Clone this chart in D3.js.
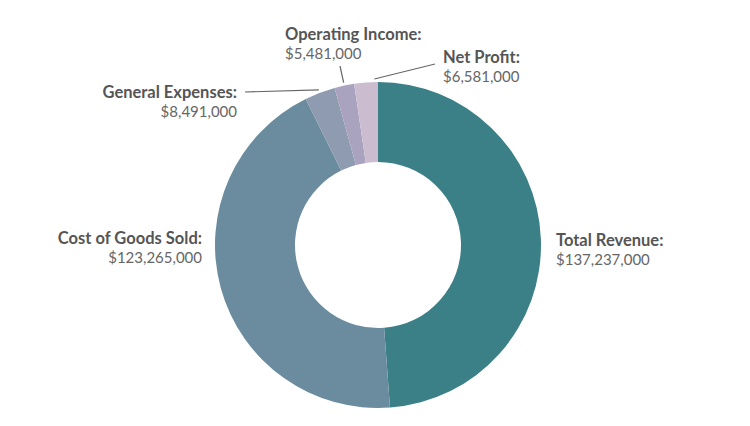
<!DOCTYPE html>
<html><head><meta charset="utf-8">
<script src="https://cdn.jsdelivr.net/npm/d3@7"></script>
<style>body{margin:0;background:#fff}svg{display:block}</style>
</head><body>
<svg id="c" width="750" height="426"></svg>
<script>
const categories = ["Total Revenue", "Cost of Goods Sold", "General Expenses", "Operating Income", "Net Profit"];
const values = [137237000, 123265000, 8491000, 5481000, 6581000];
const colors = ["#3b8087", "#6a8c9e", "#8e9bb0", "#a9a3bf", "#cbbdcf"];

// label layout (not data)
const labelLayout = [
  {x: 556, y: 246, anchor: "start", leader: null},
  {x: 202, y: 244, anchor: "end", leader: null},
  {x: 237, y: 98, anchor: "end", leader: [245, 92]},
  {x: 285, y: 40, anchor: "start", leader: [340, 66]},
  {x: 443, y: 63, anchor: "start", leader: [435, 64]}
];

const svg = d3.select("#c");
const cx = 378, cy = 245, R = 163, r = 83;
const g = svg.append("g").attr("transform", `translate(${cx},${cy})`);
const pie = d3.pie().sort(null).value(d => d)(values);
const arc = d3.arc().innerRadius(r).outerRadius(R);
g.selectAll("path").data(pie).join("path")
  .attr("d", arc).attr("fill", (d, i) => colors[i]);

const fmt = d3.format("$,");
labelLayout.forEach((L, i) => {
  const t = svg.append("text").attr("x", L.x).attr("y", L.y)
    .attr("text-anchor", L.anchor).style("font-family", "Lato, sans-serif");
  t.append("tspan").attr("x", L.x).style("font-weight", "bold").style("font-size", "16.5px")
    .attr("fill", "#555").text(categories[i] + ":");
  t.append("tspan").attr("x", L.x).attr("dy", 18.5).style("font-size", "15px")
    .attr("fill", "#666").text(fmt(values[i]));
  if (L.leader) {
    const d = pie[i];
    let a = (d.startAngle + d.endAngle) / 2;
    if (i === 4) a = d.startAngle + (d.endAngle - d.startAngle) * 0.85;
    const rr = R + 3;
    const sx = cx + rr * Math.sin(a), sy = cy - rr * Math.cos(a);
    svg.append("line").attr("x1", sx).attr("y1", sy).attr("x2", L.leader[0]).attr("y2", L.leader[1])
      .attr("stroke", "#666").attr("stroke-width", 1.2);
  }
});
</script>
</body></html>
